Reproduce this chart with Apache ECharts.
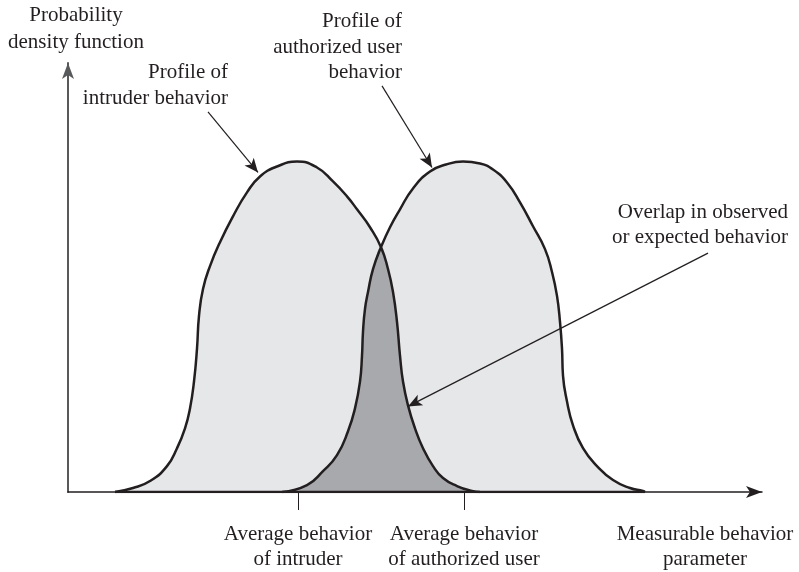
<!DOCTYPE html>
<html>
<head>
<meta charset="utf-8">
<script src="https://cdn.jsdelivr.net/npm/echarts@6/dist/echarts.min.js"></script>
<style>
    html, body { margin: 0; padding: 0; background: #fff; }
    #chart { width: 799px; height: 572px; }
</style>
</head>
<body>
<div id="chart"></div>
<script>
// 曲线数据 (x: 行为参数, y: 概率密度)
var intruderCurve = [[47, 0], [65, 4], [82, 11], [99, 26], [109, 44], [117, 64], [122, 84], [126, 111],
    [129, 144], [131, 177], [135, 204], [142, 227], [152, 251], [165, 277], [179, 301], [192, 317], [209, 327],
    [229, 332], [249, 326], [265, 312], [279, 297], [289, 284], [302, 266], [313, 246], [320, 224], [325, 201],
    [329, 171], [332, 137], [335, 111], [340, 87], [347, 64], [355, 44], [365, 26], [375, 14], [389, 6],
    [404, 1], [412, 0]];
var userCurve = [[214, 0], [239, 7], [255, 21], [269, 37], [280, 61], [287, 84], [292, 111], [294, 137],
    [295, 161], [297, 184], [300, 201], [305, 224], [313, 246], [322, 266], [332, 284], [345, 305], [362, 322],
    [378, 329], [395, 332], [412, 330], [425, 324], [439, 311], [452, 291], [465, 267], [477, 244], [484, 221],
    [489, 197], [492, 171], [494, 144], [495, 117], [499, 91], [505, 67], [515, 44], [529, 26], [545, 12],
    [562, 4], [575, 1], [577, 0]];
var crossX = 313;
var meanValues = [230, 396];
var meanLabels = ['Average behavior\nof intruder', 'Average behavior\nof authorized user'];

// 重叠区域: 用户曲线左侧 + 入侵者曲线右侧
var overlapCurve = userCurve.filter(function (p) { return p[0] < crossX; })
    .concat(intruderCurve.filter(function (p) { return p[0] >= crossX; }));
var baseLine = [intruderCurve[0], userCurve[userCurve.length - 1]];

var ink = '#231f20';
var font = '"Liberation Serif", "DejaVu Serif", serif';
var smoothness = 0.5;

function note(x, y, text, align, lh) {
    return {
        type: 'text', x: x, y: y,
        style: { text: text, align: align, verticalAlign: 'top', font: '21px ' + font, lineHeight: lh, fill: ink }
    };
}

var chart = echarts.init(document.getElementById('chart'));
var option = {
    backgroundColor: '#fff',
    animation: false,
    grid: { left: 68, right: 37, top: 63, bottom: 78 },
    xAxis: {
        type: 'value',
        min: 0,
        max: 694,
        splitLine: { show: false },
        axisLine: {
            show: true,
            symbol: ['none', 'arrow'],
            symbolSize: [9, 16],
            lineStyle: { color: ink, width: 1.5 }
        },
        axisTick: {
            show: true,
            customValues: meanValues,
            length: 18,
            lineStyle: { color: ink, width: 1 }
        },
        axisLabel: {
            show: true,
            customValues: meanValues,
            margin: 30,
            color: ink,
            fontFamily: font,
            fontSize: 21,
            lineHeight: 25,
            formatter: function (v) {
                return meanLabels[meanValues.indexOf(v)];
            }
        }
    },
    yAxis: {
        type: 'value',
        min: 0,
        max: 431,
        splitLine: { show: false },
        axisTick: { show: false },
        axisLabel: { show: false },
        axisLine: {
            show: true,
            symbol: ['none', 'arrow'],
            symbolSize: [9, 16],
            lineStyle: { color: '#58595b', width: 2 }
        }
    },
    series: [
        {
            name: 'intruder fill',
            type: 'line',
            data: intruderCurve,
            smooth: smoothness,
            showSymbol: false,
            lineStyle: { width: 0 },
            areaStyle: { color: '#e6e7e8', opacity: 1 },
            z: 1
        },
        {
            name: 'user fill',
            type: 'line',
            data: userCurve,
            smooth: smoothness,
            showSymbol: false,
            lineStyle: { width: 0 },
            areaStyle: { color: '#e6e7e8', opacity: 1 },
            z: 1
        },
        {
            name: 'overlap',
            type: 'line',
            data: overlapCurve,
            smooth: smoothness,
            showSymbol: false,
            lineStyle: { width: 0 },
            areaStyle: { color: '#a7a9ac', opacity: 1 },
            z: 2
        },
        {
            name: 'intruder',
            type: 'line',
            data: intruderCurve,
            smooth: smoothness,
            showSymbol: false,
            lineStyle: { color: ink, width: 2.5 },
            z: 3
        },
        {
            name: 'user',
            type: 'line',
            data: userCurve,
            smooth: smoothness,
            showSymbol: false,
            lineStyle: { color: ink, width: 2.5 },
            z: 3
        },
        {
            name: 'base',
            type: 'line',
            data: baseLine,
            showSymbol: false,
            lineStyle: { color: ink, width: 2.5 },
            z: 3,
            markLine: {
                silent: true,
                symbol: ['none', 'arrow'],
                symbolSize: [9, 14],
                label: { show: false },
                lineStyle: { color: ink, width: 1.2, type: 'solid' },
                data: [
                    [{ coord: [140, 382] }, { coord: [190, 321] }],
                    [{ coord: [314, 408] }, { coord: [364, 326] }],
                    [{ coord: [640, 240] }, { coord: [340, 86] }]
                ]
            }
        }
    ],
    graphic: [
        note(76, 2, 'Probability\ndensity function', 'center', 27),
        note(228, 59, 'Profile of\nintruder behavior', 'right', 26),
        note(402, 9, 'Profile of\nauthorized user\nbehavior', 'right', 25.5),
        note(788, 200, 'Overlap in observed\nor expected behavior', 'right', 25),
        note(705, 522, 'Measurable behavior\nparameter', 'center', 25)
    ]
};
chart.setOption(option);
</script>
</body>
</html>
